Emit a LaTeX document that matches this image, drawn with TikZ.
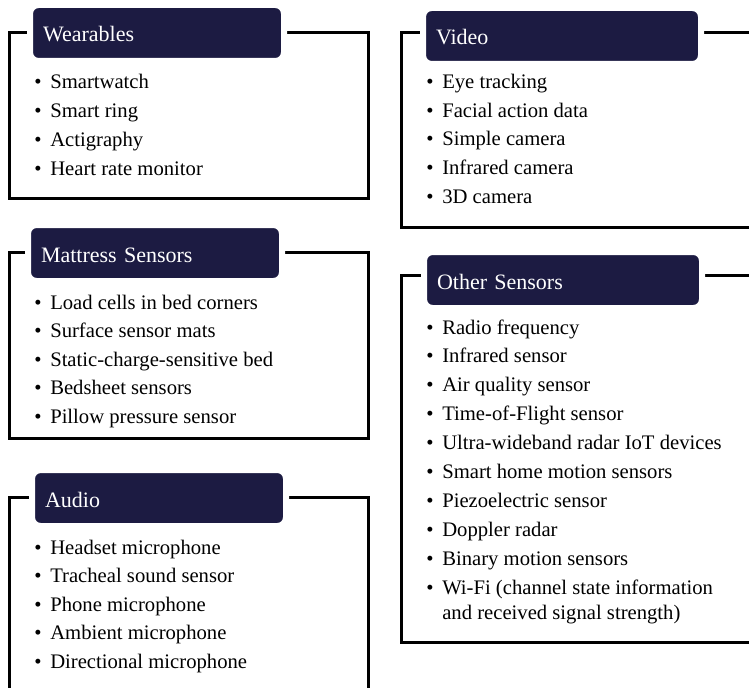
\documentclass[tikz,border=0pt]{standalone}
\usepackage{fontspec}
\setmainfont{Liberation Serif}
\usepackage{xcolor}
\usepackage{tikz}

\definecolor{navy}{RGB}{28,27,66}
\newcommand{\itm}[1]{\makebox[12pt][l]{\textbullet}#1}

\begin{document}
\begin{tikzpicture}[
  x=0.75pt, y=-0.75pt,
  panel/.style={draw=black, line width=2.25pt},
  head/.style={fill=navy, draw=white, line width=4.5pt, rounded corners=6.5pt, anchor=north west,
    minimum height=42pt, text width=171pt, inner xsep=9.75pt, text height=14pt, text depth=0.5pt,
    align=left, text=white, font=\fontsize{16.5}{20}\selectfont},
  widehead/.style={head, text width=189pt},
  entry/.style={anchor=base west, inner sep=0pt, font=\fontsize{15.5}{18.75}\selectfont},
]
\useasboundingbox (0,0) rectangle (749,688);
\clip (0,0) rectangle (749,688);

% Wearables
\draw[panel] (9,33) rectangle (368,198);
\node[head] (wearables) at (27,2) {Wearables};
\foreach \txt [count=\i] in {Smartwatch, Smart ring, Actigraphy, Heart rate monitor}
  \node[entry] (wear\i) at (34,{89+28.7*(\i-1)}) {\itm{\txt}};

% Mattress sensors
\draw[panel] (9,252) rectangle (368,438);
\node[head] (mattress) at (25,222) {Mattress Sensors};
\foreach \txt [count=\i] in {Load cells in bed corners, Surface sensor mats, Static-charge-sensitive bed,
    Bedsheet sensors, Pillow pressure sensor}
  \node[entry] (mat\i) at (34,{309+28.6*(\i-1)}) {\itm{\txt}};

% Audio (runs off the bottom)
\draw[panel] (9,497) rectangle (368,700);
\node[head] (audio) at (29,467) {Audio};
\foreach \txt [count=\i] in {Headset microphone, Tracheal sound sensor, Phone microphone,
    Ambient microphone, Directional microphone}
  \node[entry] (aud\i) at (34,{554+28.5*(\i-1)}) {\itm{\txt}};

% Video (runs off the right)
\draw[panel] (401,33) rectangle (760,227);
\node[widehead] (video) at (420,5) {Video};
\foreach \txt [count=\i] in {Eye tracking, Facial action data, Simple camera, Infrared camera, 3D camera}
  \node[entry] (vid\i) at (426,{89+28.5*(\i-1)}) {\itm{\txt}};

% Other sensors
\draw[panel] (401,275) rectangle (760,642);
\node[widehead] (other) at (421,249) {Other Sensors};
\foreach \txt [count=\i] in {Radio frequency, Infrared sensor, Air quality sensor, Time-of-Flight sensor,
    Ultra-wideband radar IoT devices, Smart home motion sensors, Piezoelectric sensor, Doppler radar,
    Binary motion sensors}
  \node[entry] (oth\i) at (426,{334+28.9*(\i-1)}) {\itm{\txt}};
\node[entry, align=left] (oth10) at (426,619)
  {\itm{Wi-Fi (channel state information}\\\hspace*{12pt}and received signal strength)};

\end{tikzpicture}
\end{document}
